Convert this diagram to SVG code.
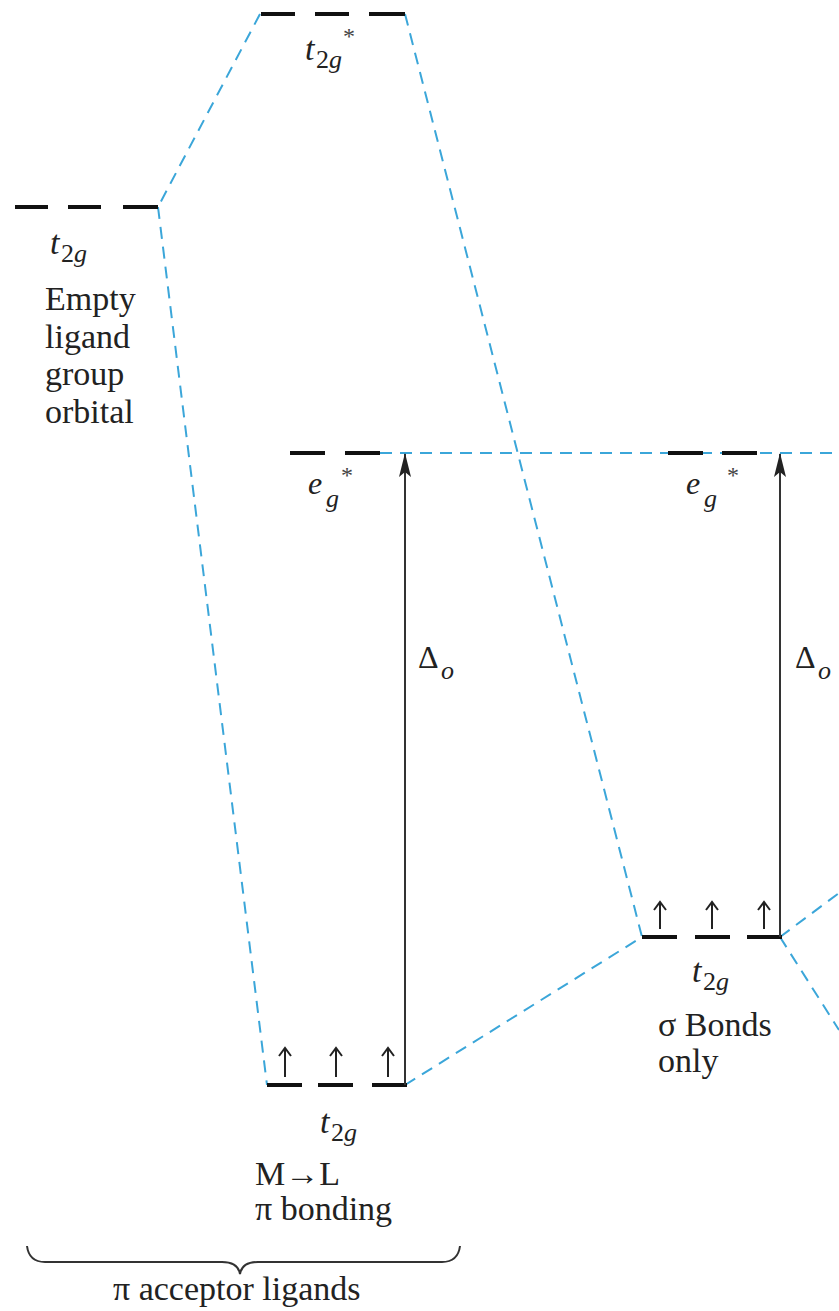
<svg xmlns="http://www.w3.org/2000/svg" width="839" height="1311" viewBox="0 0 839 1311" font-family="Liberation Serif, Times New Roman, Tinos, DejaVu Serif, serif">
<style>
.lvl{stroke:#111;stroke-width:4;fill:none}
.conn{stroke:#3ba6d9;stroke-width:2;stroke-dasharray:12 8;fill:none}
.tx{font-size:34px;fill:#222}
.it{font-style:italic}
.sub{font-size:26px;fill:#222}
.star{font-size:24px;fill:#444}
.spin{stroke:#222;stroke-width:2;fill:none}
.gap{stroke:#333;stroke-width:2;fill:none}
</style>
<defs>
<marker id="ah" viewBox="0 0 24 12" refX="23" refY="6" markerWidth="24" markerHeight="12" markerUnits="userSpaceOnUse" orient="auto">
<path d="M24,6 L0,0 L5,6 L0,12 Z" fill="#222"/>
</marker>
</defs>
<rect width="839" height="1311" fill="#fff"/>
<g id="connectors">
<line class="conn" x1="260" y1="14" x2="158" y2="207"/>
<line class="conn" x1="158" y1="207" x2="267" y2="1085"/>
<line class="conn" x1="405" y1="14" x2="642" y2="937"/>
<line class="conn" x1="405" y1="1085" x2="642" y2="937"/>
<line class="conn" x1="380" y1="453" x2="839" y2="453"/>
<line class="conn" x1="780" y1="937" x2="839" y2="893"/>
<line class="conn" x1="780" y1="937" x2="839" y2="1030"/>
</g>
<g id="t2g-star-top">
<path class="lvl" d="M261,14h34M315,14h34M369,14h36"/>
<text class="tx it" x="305" y="60">t</text>
<text class="sub" x="316" y="68">2<tspan class="it">g</tspan></text>
<text class="star" x="343" y="44">*</text>
</g>
<g id="t2g-ligand">
<path class="lvl" d="M15,207h33M68,207h33M123,207h35"/>
<text class="tx it" x="50" y="254">t</text>
<text class="sub" x="61" y="262">2<tspan class="it">g</tspan></text>
<text class="tx" x="45" y="310">Empty</text>
<text class="tx" x="45" y="348">ligand</text>
<text class="tx" x="45" y="385">group</text>
<text class="tx" x="45" y="423">orbital</text>
</g>
<g id="eg-star-pi">
<path class="lvl" d="M290,453h35M345,453h35"/>
<text class="tx it" x="308" y="494" style="font-size:32px">e</text>
<text class="sub it" x="326" y="507">g</text>
<text class="star" x="341" y="483">*</text>
</g>
<g id="t2g-pi">
<path class="lvl" d="M267,1085h35M318,1085h35M372,1085h35"/>
<path class="spin" d="M285,1077V1049M279,1056L285,1048L291,1056M336,1077V1049M330,1056L336,1048L342,1056M388,1077V1049M382,1056L388,1048L394,1056"/>
<line class="gap" x1="405" y1="1085" x2="405" y2="454" marker-end="url(#ah)"/>
<text class="tx" x="418" y="668" style="font-size:32px">Δ</text>
<text class="sub it" x="441" y="679">o</text>
<text class="tx it" x="320" y="1133">t</text>
<text class="sub" x="331" y="1141">2<tspan class="it">g</tspan></text>
<text class="tx" x="255" y="1185">M→L</text>
<text class="tx" x="255" y="1220">π bonding</text>
</g>
<g id="eg-star-sigma">
<path class="lvl" d="M668,453h35M722,453h35"/>
<text class="tx it" x="686" y="494" style="font-size:32px">e</text>
<text class="sub it" x="704" y="507">g</text>
<text class="star" x="727" y="483">*</text>
</g>
<g id="t2g-sigma">
<path class="lvl" d="M642,937h35M695,937h35M747,937h35"/>
<path class="spin" d="M660,929V903M654,910L660,902L666,910M712,929V903M706,910L712,902L718,910M764,929V903M758,910L764,902L770,910"/>
<line class="gap" x1="780" y1="937" x2="780" y2="454" marker-end="url(#ah)"/>
<text class="tx" x="795" y="668" style="font-size:32px">Δ</text>
<text class="sub it" x="818" y="679">o</text>
<text class="tx it" x="692" y="982">t</text>
<text class="sub" x="703" y="990">2<tspan class="it">g</tspan></text>
<text class="tx" x="658" y="1036">σ Bonds</text>
<text class="tx" x="658" y="1072">only</text>
</g>
<g id="pi-acceptor-brace">
<path class="gap" d="M27,1246Q29,1262 45,1262L222,1262Q238,1262 240,1274Q242,1262 258,1262L442,1262Q458,1262 460,1246"/>
<text class="tx" x="113" y="1300">π acceptor ligands</text>
</g>
</svg>
